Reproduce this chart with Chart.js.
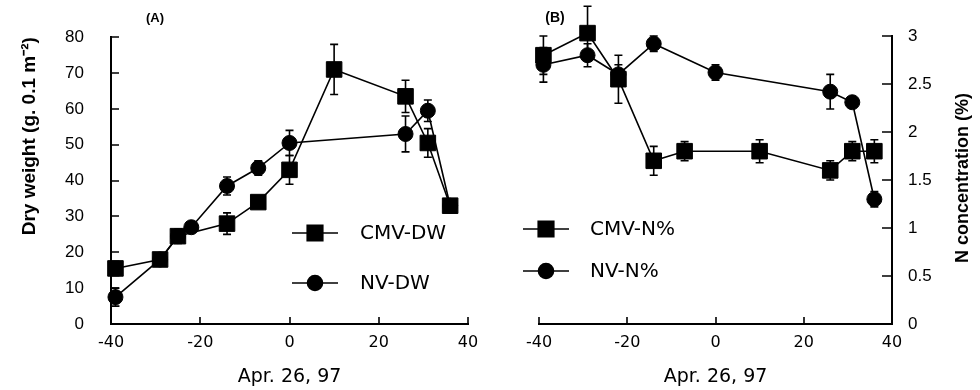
<!DOCTYPE html>
<html><head><meta charset="utf-8">
<script src="https://cdn.jsdelivr.net/npm/chart.js@4.4.0/dist/chart.umd.min.js"></script>
<style>
html,body{margin:0;padding:0;background:#fff;}
#wrap{position:relative;width:980px;height:390px;background:#fff;}
.pane{position:absolute;top:0;width:490px;height:390px;}
canvas{display:block;}
</style></head><body>
<div id="wrap">
<div class="pane" style="left:0"><canvas id="cA" width="490" height="390"></canvas></div>
<div class="pane" style="left:490px"><canvas id="cB" width="490" height="390"></canvas></div>
</div>
<script>
// ---- data (days relative to Apr. 26, 97) ----
const daysA_CMV = [-39, -29, -25, -14, -7, 0, 10, 26, 31, 36];
const dwCMV     = [15.5, 18, 24.5, 28, 34, 43, 71, 63.5, 50.5, 33];
const dwCMVErr  = [2, 1.5, 2, 3, 1, 4, 7, 4.5, 4, 1];
const daysA_NV  = [-39, -29, -25, -22, -14, -7, 0, 26, 31, 36];
const dwNV      = [7.5, 18, 24.5, 27, 38.5, 43.5, 50.5, 53, 59.5, 33];
const dwNVErr   = [2.5, 1.5, 1.5, 1, 2.5, 2, 3.5, 5, 3, 1];

const daysB_CMV = [-39, -29, -22, -14, -7, 10, 26, 31, 36];
const nCMV      = [2.8, 3.03, 2.55, 1.7, 1.8, 1.8, 1.6, 1.8, 1.8];
const nCMVErr   = [0.2, 0.28, 0.25, 0.15, 0.1, 0.12, 0.1, 0.1, 0.12];
const daysB_NV  = [-39, -29, -22, -14, 0, 26, 31, 36];
const nNV       = [2.7, 2.8, 2.6, 2.92, 2.62, 2.42, 2.31, 1.3];
const nNVErr    = [0.18, 0.12, 0.1, 0.08, 0.08, 0.18, 0.04, 0.08];

const xTicks       = [-40, -20, 0, 20, 40];
const xTickLabels  = ['-40', '-20', '0', '20', '40'];
const yTicksA      = [0, 10, 20, 30, 40, 50, 60, 70, 80];
const yTickLabelsA = ['0', '10', '20', '30', '40', '50', '60', '70', '80'];
const yTicksB      = [0, 0.5, 1, 1.5, 2, 2.5, 3];
const yTickLabelsB = ['0', '0.5', '1', '1.5', '2', '2.5', '3'];

const labelsA = ['CMV-DW', 'NV-DW'];
const labelsB = ['CMV-N%', 'NV-N%'];
const xTitle = 'Apr. 26, 97';
const yTitleA = 'Dry weight (g. 0.1 m\u207B\u00B2)';
const yTitleB = 'N concentration (%)';

// ---- plugins ----
const errorBars = {
  id: 'errorBars',
  afterDatasetsDraw(chart) {
    const ctx = chart.ctx, xs = chart.scales.x, ys = chart.scales.y;
    ctx.save();
    ctx.strokeStyle = '#000'; ctx.lineWidth = 1.6;
    chart.data.datasets.forEach(ds => {
      if (!ds.errors) return;
      ds.data.forEach((p, i) => {
        const e = ds.errors[i];
        const px = xs.getPixelForValue(p.x);
        const t = ys.getPixelForValue(p.y + e), b = ys.getPixelForValue(p.y - e);
        ctx.beginPath();
        ctx.moveTo(px, t); ctx.lineTo(px, b);
        ctx.moveTo(px - 4, t); ctx.lineTo(px + 4, t);
        ctx.moveTo(px - 4, b); ctx.lineTo(px + 4, b);
        ctx.stroke();
      });
    });
    ctx.restore();
  }
};

const inTicks = {
  id: 'inTicks',
  afterDraw(chart, args, o) {
    const ctx = chart.ctx, ca = chart.chartArea, xs = chart.scales.x, ys = chart.scales.y;
    ctx.save();
    ctx.strokeStyle = '#000'; ctx.lineWidth = 1.6;
    ctx.beginPath();
    xs.ticks.forEach(t => {
      const px = Math.round(xs.getPixelForValue(t.value));
      ctx.moveTo(px, ca.bottom); ctx.lineTo(px, ca.bottom - o.xLen);
    });
    const right = ys.position === 'right';
    const x0 = right ? ca.right : ca.left;
    ys.ticks.forEach(t => {
      const py = Math.round(ys.getPixelForValue(t.value));
      ctx.moveTo(x0, py); ctx.lineTo(x0 + (right ? -o.yLen : o.yLen), py);
    });
    ctx.stroke();
    ctx.restore();
  }
};

const boxLegend = {
  id: 'boxLegend',
  afterDraw(chart, args, o) {
    const ctx = chart.ctx;
    ctx.save();
    chart.data.datasets.forEach((ds, i) => {
      const y = o.y[i];
      ctx.strokeStyle = '#000'; ctx.lineWidth = 1.6;
      ctx.beginPath(); ctx.moveTo(o.x0, y); ctx.lineTo(o.x1, y); ctx.stroke();
      ctx.fillStyle = '#000';
      Chart.helpers.drawPoint(ctx, {pointStyle: ds.pointStyle, radius: ds.pointRadius, rotation: 0, borderWidth: 1}, (o.x0 + o.x1) / 2, y);
      ctx.font = o.font; ctx.textAlign = 'left'; ctx.textBaseline = 'middle';
      ctx.fillText(ds.label, o.tx, y + 1);
    });
    ctx.restore();
  }
};

const extraText = {
  id: 'extraText',
  afterDraw(chart, args, o) {
    const ctx = chart.ctx;
    (o.items || []).forEach(it => {
      ctx.save();
      ctx.font = it.font; ctx.fillStyle = '#000';
      ctx.textAlign = 'center'; ctx.textBaseline = 'middle';
      ctx.translate(it.x, it.y); ctx.rotate(it.rot || 0);
      ctx.fillText(it.text, 0, 0);
      ctx.restore();
    });
  }
};

Chart.register(errorBars, inTicks, boxLegend, extraText);

const tickFont = {family: "'Liberation Sans', Arial, sans-serif", size: 17};
const xTickFont = {family: "'DejaVu Sans', sans-serif", size: 16};
const titleFamily = "'Liberation Sans', Arial, sans-serif";

function series(xs, ys, errs, label, style, radius) {
  return {
    label, data: xs.map((x, i) => ({x, y: ys[i]})), errors: errs,
    pointStyle: style, pointRadius: radius, pointHoverRadius: radius,
    borderColor: '#000', backgroundColor: '#000', pointBackgroundColor: '#000',
    pointBorderColor: '#000', pointBorderWidth: 1, borderWidth: 1.6,
    tension: 0, clip: false, fill: false
  };
}

function fixedTicks(values, labels) {
  return s => { s.ticks = values.map((v, i) => ({value: v, label: labels[i]})); };
}

function xScale() {
  return {
    type: 'linear', min: -40, max: 40,
    afterBuildTicks: fixedTicks(xTicks, xTickLabels),
    afterFit: s => { s.height = 66; },
    grid: {display: false, drawTicks: false},
    border: {display: true, color: '#000', width: 2},
    ticks: {color: '#000', font: xTickFont, padding: 9, maxRotation: 0, autoSkip: false,
            callback: v => xTickLabels[xTicks.indexOf(v)]},
    title: {display: true, text: xTitle, color: '#000', font: {family: "'DejaVu Sans', sans-serif", size: 19}, padding: {top: 0, bottom: 2}}
  };
}

// ---- Chart A ----
new Chart(document.getElementById('cA'), {
  type: 'line',
  data: {datasets: [
    series(daysA_CMV, dwCMV, dwCMVErr, labelsA[0], 'rect', 11),
    series(daysA_NV, dwNV, dwNVErr, labelsA[1], 'circle', 7.5)
  ]},
  options: {
    responsive: false, animation: false, events: [],
    layout: {padding: {left: 0, right: 22, top: 36, bottom: 0}},
    plugins: {
      legend: {display: false}, tooltip: {enabled: false},
      inTicks: {xLen: 7, yLen: 8},
      boxLegend: {x0: 292, x1: 338, tx: 360, y: [233, 283], font: "20px 'DejaVu Sans', sans-serif"},
      extraText: {items: [{text: '(A)', x: 155, y: 18, font: "bold 13px 'Liberation Sans', sans-serif"}]}
    },
    scales: {
      x: xScale(),
      y: {
        type: 'linear', min: 0, max: 80, position: 'left',
        afterBuildTicks: fixedTicks(yTicksA, yTickLabelsA),
        afterFit: s => { s.width = 111; },
        grid: {display: false, drawTicks: false},
        border: {display: true, color: '#000', width: 2},
        ticks: {color: '#000', font: tickFont, padding: 27, callback: v => yTickLabelsA[yTicksA.indexOf(v)]},
        title: {display: true, text: yTitleA, align: 'end', color: '#000', font: {family: titleFamily, size: 19, weight: 'bold'}, padding: {top: 18, bottom: 0}}
      }
    }
  }
});

// ---- Chart B ----
new Chart(document.getElementById('cB'), {
  type: 'line',
  data: {datasets: [
    series(daysB_CMV, nCMV, nCMVErr, labelsB[0], 'rect', 11),
    series(daysB_NV, nNV, nNVErr, labelsB[1], 'circle', 7.5)
  ]},
  options: {
    responsive: false, animation: false, events: [],
    layout: {padding: {left: 49, right: 0, top: 36, bottom: 0}},
    plugins: {
      legend: {display: false}, tooltip: {enabled: false},
      inTicks: {xLen: 7, yLen: 10},
      boxLegend: {x0: 33, x1: 79, tx: 100, y: [229, 271], font: "20px 'DejaVu Sans', sans-serif"},
      extraText: {items: [
        {text: '(B)', x: 65, y: 18, font: "bold 14px 'Liberation Sans', sans-serif"},
        {text: yTitleB, x: 473, y: 178, rot: -Math.PI / 2, font: "bold 18px " + titleFamily}
      ]}
    },
    scales: {
      x: xScale(),
      y: {
        type: 'linear', min: 0, max: 3, position: 'right',
        afterBuildTicks: fixedTicks(yTicksB, yTickLabelsB),
        afterFit: s => { s.width = 88; },
        grid: {display: false, drawTicks: false},
        border: {display: true, color: '#000', width: 2},
        ticks: {color: '#000', font: tickFont, padding: 16, callback: v => yTickLabelsB[yTicksB.indexOf(v)]},
        title: {display: false}
      }
    }
  }
});
</script>
</body></html>
